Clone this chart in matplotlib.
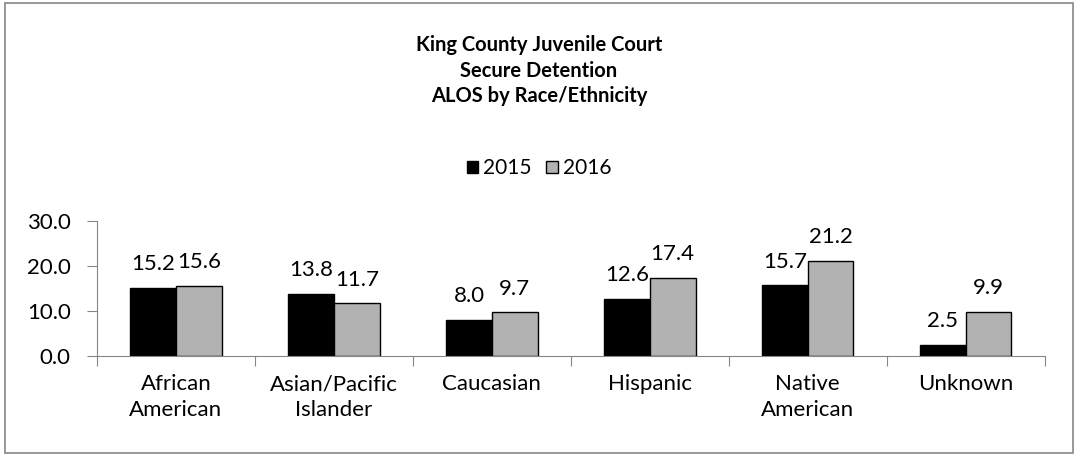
import numpy as np
import matplotlib.pyplot as plt
from matplotlib.patches import Rectangle

categories = ['African\nAmerican', 'Asian/Pacific\nIslander', 'Caucasian',
              'Hispanic', 'Native\nAmerican', 'Unknown']
alos_2015 = [15.2, 13.8, 8.0, 12.6, 15.7, 2.5]
alos_2016 = [15.6, 11.7, 9.7, 17.4, 21.2, 9.9]
years = ['2015', '2016']

plt.rcParams['font.family'] = ['Lato', 'DejaVu Sans']
grey = '#868686'
fs = 16

fig = plt.figure(figsize=(10.78, 4.57), dpi=100)
fig.patches.append(Rectangle((0.005, 0.008), 0.99, 0.985, transform=fig.transFigure,
                             fill=False, edgecolor=grey, linewidth=1.2))
ax = fig.add_axes([0.090, 0.221, 0.879, 0.295])

x = np.arange(len(categories))
w = 0.29
b1 = ax.bar(x - w / 2, alos_2015, w, color='black', edgecolor='black', linewidth=1, label=years[0])
b2 = ax.bar(x + w / 2, alos_2016, w, color='#b2b2b2', edgecolor='black', linewidth=1, label=years[1])
for bars in (b1, b2):
    for r in bars:
        ax.annotate(f'{r.get_height():.1f}', (r.get_x() + r.get_width() / 2, r.get_height()),
                    xytext=(0, 10), textcoords='offset points', ha='center', va='bottom', fontsize=fs)

ax.set_xlim(-0.5, len(categories) - 0.5)
ax.set_ylim(0, 30)
ax.set_yticks([0, 10, 20, 30])
ax.set_yticklabels([f'{v:.1f}' for v in [0, 10, 20, 30]], fontsize=fs)
ax.set_xticks(np.arange(len(categories) + 1) - 0.5)
ax.set_xticklabels([])
ax.set_xticks(x, minor=True)
ax.set_xticklabels(categories, minor=True, fontsize=fs, linespacing=1.4)
ax.tick_params(axis='x', which='minor', length=0, pad=13)
ax.tick_params(axis='x', which='major', length=7, color=grey, direction='out')
ax.tick_params(axis='y', length=7, color=grey, direction='out', pad=12)
for s in ['top', 'right']:
    ax.spines[s].set_visible(False)
for s in ['left', 'bottom']:
    ax.spines[s].set_color(grey)

fig.text(0.5, 0.845, 'King County Juvenile Court\nSecure Detention\nALOS by Race/Ethnicity',
         ha='center', va='center', fontsize=14.5, fontweight='bold', linespacing=1.35)
fig.legend(handles=[b1, b2], loc='center', bbox_to_anchor=(0.5, 0.632), ncol=2, frameon=False,
           fontsize=15, handlelength=0.55, handleheight=0.55, handletextpad=0.25, columnspacing=0.7)

fig.savefig('out.png', dpi=100)
